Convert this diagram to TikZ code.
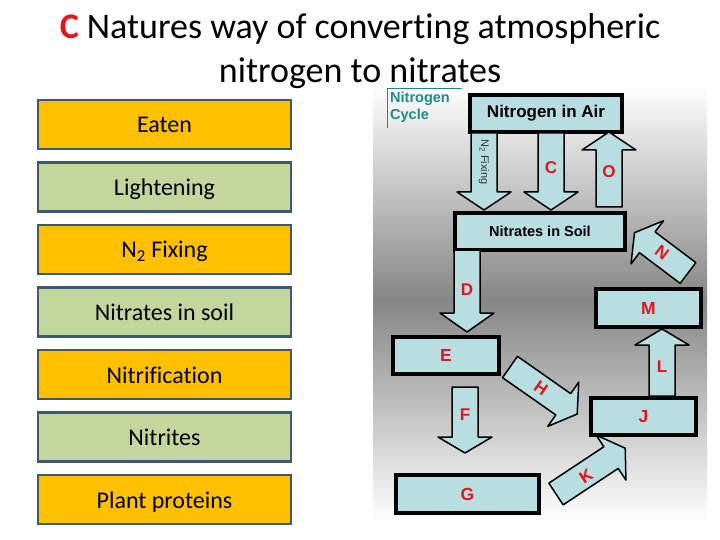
\documentclass[tikz,border=0pt]{standalone}
\usepackage{fontspec}
\setmainfont{Carlito}[Ligatures=NoCommon]
\newfontfamily\arialfont{Liberation Sans}
\usetikzlibrary{positioning}
\definecolor{cyellow}{HTML}{FFC000}
\definecolor{cgreen}{HTML}{C3D69B}
\definecolor{cframe}{HTML}{3E5A72}
\definecolor{cblue}{HTML}{B9DEE2}
\definecolor{cred}{HTML}{E3141C}
\definecolor{cteal}{HTML}{1D8B8B}

% block arrow: tail point, angle, length, head length
\newcommand{\blockarrow}[4]{%
  \begin{scope}[shift={#1},rotate=#2]
    \draw[arrow body] (0,-13) -- (#3-#4,-13) -- (#3-#4,-27) -- (#3,0)
      -- (#3-#4,27) -- (#3-#4,13) -- (0,13) -- cycle;
  \end{scope}}

\begin{document}
\begin{tikzpicture}[x=1pt,y=-1pt,node distance=11pt,
  list box/.style={draw=cframe,line width=2.5pt,minimum width=253pt,minimum height=49pt,
    inner sep=0pt,text height=17pt,text depth=0pt,font=\fontsize{24}{28}\selectfont},
  yellow box/.style={list box,fill=cyellow},
  green box/.style={list box,fill=cgreen},
  cycle box/.style={draw=black,line width=3.2pt,fill=cblue,inner sep=0pt,
    font=\arialfont\bfseries\fontsize{14.5}{16}\selectfont},
  letter box/.style={cycle box,text=cred,font=\arialfont\bfseries\fontsize{17.5}{19}\selectfont},
  arrow body/.style={draw=black,line width=1.5pt,fill=cblue,line join=round},
  step label/.style={text=cred,inner sep=0pt,font=\arialfont\bfseries\fontsize{17}{18}\selectfont}]
  \useasboundingbox (0,0) rectangle (720,540);

  % title
  \node[font=\fontsize{36}{44}\selectfont,align=center] (title) at (360,51)
    {\textcolor{cred}{\textbf{C}} Natures way of converting atmospheric\\nitrogen to nitrates};

  % list on the left
  \node[yellow box] (eaten) at (164.5,124.5) {Eaten};
  \node[green box] (light) [below=of eaten] {Lightening};
  \node[yellow box] (fixing) [below=of light] {N\textsubscript{2} Fixing};
  \node[green box] (soillist) [below=of fixing] {Nitrates in soil};
  \node[yellow box] (nitrif) [below=of soillist] {Nitrification};
  \node[green box] (nitrites) [below=of nitrif] {Nitrites};
  \node[yellow box] (proteins) [below=of nitrites] {Plant proteins};

  % cycle background
  \shade[top color=white,bottom color=gray!95] (373,85) rectangle (707,300);
  \shade[top color=gray!95,bottom color=white] (373,300) rectangle (707,522);
  \draw[cteal,line width=0.8pt] (387,128) -- (387,88) -- (462,88);
  \node[anchor=north west,align=left,inner sep=0pt,text=cteal,
    font=\arialfont\bfseries\fontsize{14.5}{16.5}\selectfont] (cyclename) at (390,92) {Nitrogen\\Cycle};

  % cycle boxes
  \node[cycle box,minimum width=152pt,minimum height=37pt,
    font=\arialfont\bfseries\fontsize{17}{19}\selectfont] (air) at (546,113.5) {Nitrogen in Air};
  \node[cycle box,minimum width=170pt,minimum height=37pt] (soil) at (540,231.5) {Nitrates in Soil};
  \node[letter box,minimum width=105pt,minimum height=38pt] (m) at (648.5,308) {M};
  \node[letter box,minimum width=106pt,minimum height=37pt] (e) at (446,355.5) {E};
  \node[letter box,minimum width=105pt,minimum height=37pt] (j) at (643.5,416.5) {J};
  \node[letter box,minimum width=143pt,minimum height=38pt] (g) at (467.5,494) {G};

  % cycle arrows
  \blockarrow{(484,133)}{-90}{77}{18}
  \blockarrow{(551,133)}{-90}{77}{18}
  \blockarrow{(609,207)}{90}{75}{18}
  \blockarrow{(688,273)}{143}{67}{16}
  \blockarrow{(467,250)}{-90}{82}{19}
  \blockarrow{(510,367)}{-35}{82}{17}
  \blockarrow{(465,387)}{-90}{66}{16}
  \blockarrow{(556,494)}{33.5}{83}{17}
  \blockarrow{(662,396)}{90}{67}{16}

  \node[rotate=-90,inner sep=0pt,text=black!80,font=\arialfont\fontsize{11}{12}\selectfont]
    (fixlabel) at (484,162) {N\textsubscript{2} Fixing};
  \node[step label] (c) at (551,168) {C};
  \node[step label] (o) at (609,172) {O};
  \node[step label,rotate=-37] (n) at (662,253) {N};
  \node[step label] (d) at (467,290) {D};
  \node[step label,rotate=-35] (h) at (541,388) {H};
  \node[step label] (f) at (465,415) {F};
  \node[step label,rotate=33] (k) at (586,476) {K};
  \node[step label] (l) at (662,367) {L};
\end{tikzpicture}
\end{document}
